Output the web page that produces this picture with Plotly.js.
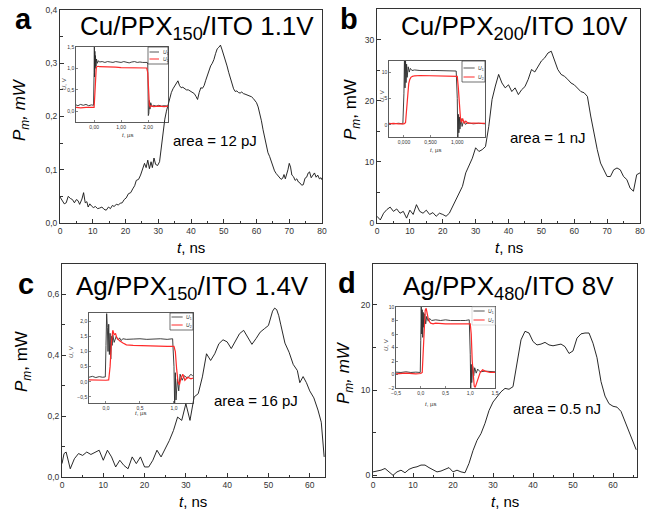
<!DOCTYPE html>
<html>
<head>
<meta charset="utf-8">
<script src="https://cdn.plot.ly/plotly-3.0.1.min.js"></script>
<style>html,body{margin:0;padding:0;background:#fff;}#chart{width:652px;height:512px;}</style>
</head>
<body>
<div id="chart"></div>
<script>
// ---------- Panel a: Cu/PPX150/ITO 1.1V ----------
const tA = [0,0.7,1.3,1.9,2.5,3.2,3.8,4.4,5.0,5.5,6.0,6.7,7.2,7.7,8.2,8.6,9.1,9.6,10.2,10.8,11.5,12.1,12.8,13.4,14.1,14.8,15.4,16.0,16.5,17.2,17.8,18.4,19.0,19.6,20.2,20.9,21.6,22.2,22.8,23.3,24.0,24.6,25.2,25.8,26.3,26.8,27.3,27.8,28.2,28.7,29.2,29.8,30.4,31.0,31.5,32.0,32.5,33.0,33.5,34.0,34.5,35.0,35.5,36.0,36.5,37.0,37.5,38.0,38.6,39.2,39.8,40.4,41.0,41.5,42.0,42.5,43.0,43.5,44.0,44.5,45.0,45.5,46.0,46.5,47.0,47.5,48.0,48.5,49.0,49.5,50.0,50.5,51.0,51.5,52.0,52.5,53.0,53.5,54.0,54.5,55.0,55.5,56.0,56.5,57.0,57.5,58.0,58.5,59.0,59.5,60.0,60.5,61.0,61.5,62.0,62.5,63.0,63.5,64.0,64.5,65.0,65.5,66.0,66.5,67.0,67.5,68.0,68.4,68.8,69.2,69.6,70.0,70.4,70.8,71.3,71.8,72.3,72.8,73.3,73.8,74.3,74.8,75.3,75.8,76.2,76.7,77.2,77.7,78.2,78.7,79.2,79.7,80.0];
const pA = [0.049,0.043,0.036,0.038,0.050,0.046,0.044,0.038,0.044,0.042,0.035,0.045,0.057,0.038,0.040,0.030,0.036,0.032,0.029,0.031,0.027,0.028,0.030,0.026,0.024,0.030,0.027,0.033,0.031,0.035,0.034,0.037,0.038,0.044,0.047,0.055,0.057,0.064,0.070,0.080,0.082,0.090,0.100,0.112,0.104,0.118,0.102,0.115,0.104,0.122,0.110,0.108,0.115,0.150,0.175,0.195,0.210,0.222,0.235,0.245,0.252,0.258,0.262,0.267,0.258,0.254,0.255,0.252,0.250,0.250,0.248,0.246,0.243,0.238,0.232,0.245,0.254,0.253,0.258,0.268,0.278,0.288,0.295,0.300,0.307,0.318,0.327,0.330,0.334,0.325,0.316,0.305,0.295,0.283,0.273,0.262,0.252,0.247,0.248,0.245,0.244,0.246,0.243,0.242,0.241,0.240,0.239,0.237,0.234,0.230,0.226,0.218,0.207,0.192,0.175,0.160,0.144,0.132,0.125,0.115,0.106,0.098,0.093,0.089,0.087,0.082,0.084,0.091,0.083,0.090,0.100,0.112,0.105,0.090,0.087,0.080,0.083,0.077,0.075,0.071,0.072,0.084,0.086,0.094,0.096,0.085,0.090,0.094,0.086,0.090,0.083,0.085,0.081];
const insA_t1 = [-0.67,-0.6,-0.5,-0.4,-0.3,-0.2,-0.1,-0.02,0.0,0.01,0.02,0.03,0.04,0.05,0.07,0.09,0.12,0.16,0.2,0.3,0.4,0.5,0.6,0.7,0.8,0.9,1.0,1.1,1.2,1.3,1.4,1.5,1.6,1.7,1.8,1.9,1.97,1.99,2.0,2.01,2.02,2.03,2.05,2.07,2.1,2.15,2.2,2.3,2.4,2.5,2.6,2.74];
const insA_u1 = [0.15,0.13,0.16,0.14,0.16,0.13,0.15,0.14,0.9,1.5,0.8,1.4,1.0,1.3,1.05,1.22,1.12,1.18,1.15,1.16,1.14,1.16,1.15,1.14,1.16,1.15,1.14,1.16,1.15,1.13,1.15,1.16,1.14,1.15,1.14,1.15,1.14,1.1,0.4,-0.1,0.35,-0.05,0.25,0.05,0.2,0.1,0.14,0.12,0.14,0.12,0.13,0.12];
const insA_t2 = [-0.67,-0.5,-0.3,-0.1,0.0,0.02,0.04,0.06,0.08,0.1,0.15,0.2,0.4,0.6,0.8,1.0,1.2,1.4,1.6,1.8,1.95,1.99,2.01,2.03,2.05,2.08,2.12,2.2,2.4,2.6,2.74];
const insA_u2 = [0.09,0.08,0.09,0.08,0.09,0.3,0.7,0.92,1.0,1.04,1.05,1.04,1.04,1.03,1.03,1.02,1.02,1.02,1.01,1.01,1.01,0.9,0.45,0.2,0.15,0.1,0.13,0.11,0.12,0.11,0.12];

// ---------- Panel b: Cu/PPX200/ITO 10V ----------
const tB = [0,1,2,3,4,5,6,7,8,9,10,11,12,13,14,15,16,17,18,19,20,21,22,23,24,25,26,27,28,29,30,31,32,33,34,35,36,37,38,39,40,41,42,43,44,45,46,47,48,49,50,51,52,53,54,55,56,57,58,59,60,61,62,63,64,65,66,67,68,69,70,71,72,73,74,75,76,77,78,79,80];
const pB = [1.1,0.5,1.6,2.2,2.6,1.9,2.3,1.6,1.9,0.8,2.1,1.4,3.0,1.9,1.6,2.1,1.4,1.7,1.1,1.6,1.4,1.1,1.6,2.7,3.8,4.9,6.0,8.2,9.3,10.6,12.3,11.7,12.0,12.5,15.8,20.2,22.4,24.3,22.9,22.1,22.6,21.5,22.1,21.0,21.8,22.3,23.5,25.1,24.7,25.6,26.5,27.0,27.8,28.1,26.5,25.1,24.3,24.0,23.5,22.9,22.6,22.1,21.5,21.3,20.7,17.5,14.7,12.0,9.8,8.7,7.6,7.6,8.7,9.0,8.7,7.6,7.1,5.7,5.2,7.9,8.2];
const insB_t1 = [-0.28,-0.2,-0.1,-0.02,0.0,0.01,0.02,0.03,0.04,0.05,0.06,0.08,0.1,0.12,0.15,0.2,0.3,0.4,0.5,0.6,0.7,0.8,0.9,0.98,1.0,1.01,1.02,1.03,1.04,1.05,1.07,1.09,1.12,1.15,1.2,1.3,1.4,1.52];
const insB_u1 = [0.3,0.2,0.3,0.2,6,13,7,12.5,8,11.5,9,11,10,10.7,10.3,10.4,10.3,10.35,10.3,10.3,10.25,10.3,10.25,10.2,5,-3,2,-1.5,1.5,-0.8,1.2,-0.3,0.8,0.1,0.4,0.2,0.3,0.2];
const insB_t2 = [-0.28,-0.2,-0.1,0.0,0.03,0.05,0.07,0.09,0.11,0.13,0.16,0.2,0.3,0.5,0.7,0.9,1.0,1.02,1.04,1.06,1.08,1.1,1.13,1.16,1.2,1.3,1.52];
const insB_u2 = [0.2,0.3,0.2,0.2,0.4,3,6,7.8,8.6,9.0,9.2,9.3,9.35,9.3,9.3,9.25,9.2,7,3,1.2,0.5,1.2,0.3,0.7,0.3,0.35,0.3];

// ---------- Panel c: Ag/PPX150/ITO 1.4V ----------
const tC = [0,0.5,1,1.5,2,3,4,5,6,7,8,9,10,11,12,13,14,15,16,17,18,19,20,21,22,23,24,25,26,27,28,29,30,31,32,33,34,35,36,37,38,39,40,41,42,43,44,45,46,47,48,49,50,51,51.5,52,52.5,53,54,55,56,57,57.6,58.4,59.2,60,61,62,62.8,63.5];
const pC = [0.044,0.077,0.082,0.055,0.027,0.060,0.077,0.071,0.082,0.074,0.082,0.088,0.055,0.088,0.066,0.033,0.055,0.038,0.027,0.066,0.044,0.066,0.033,0.033,0.055,0.088,0.066,0.093,0.120,0.153,0.197,0.186,0.241,0.186,0.263,0.274,0.329,0.405,0.383,0.405,0.438,0.451,0.444,0.422,0.449,0.471,0.482,0.460,0.436,0.455,0.476,0.487,0.498,0.545,0.555,0.550,0.530,0.500,0.440,0.410,0.370,0.350,0.310,0.330,0.310,0.283,0.260,0.220,0.180,0.066];
const insC_t1 = [-0.25,-0.2,-0.15,-0.1,-0.05,-0.01,0.0,0.01,0.02,0.03,0.04,0.05,0.06,0.07,0.08,0.09,0.1,0.12,0.15,0.18,0.2,0.22,0.25,0.3,0.4,0.5,0.6,0.7,0.8,0.9,0.98,1.0,1.01,1.02,1.03,1.05,1.07,1.09,1.12,1.15,1.2,1.25,1.28];
const insC_u1 = [0.15,0.18,0.14,0.17,0.15,0.16,1.2,2.25,1.8,1.0,1.9,0.9,1.6,0.75,1.5,1.2,1.55,1.3,1.5,1.38,1.45,1.36,1.42,1.4,1.41,1.42,1.4,1.41,1.42,1.4,1.42,0.5,-0.8,0.3,-0.6,0.1,-0.3,0.25,0.05,0.2,0.12,0.25,0.18];
const insC_t2 = [-0.25,-0.15,-0.05,0.0,0.04,0.06,0.08,0.09,0.1,0.12,0.14,0.16,0.18,0.2,0.25,0.3,0.4,0.5,0.6,0.7,0.8,0.9,1.0,1.02,1.04,1.06,1.08,1.1,1.13,1.16,1.2,1.25,1.28];
const insC_u2 = [0.06,0.05,0.06,0.05,0.06,0.5,1.3,1.65,1.7,1.55,1.6,1.45,1.4,1.35,1.28,1.22,1.2,1.19,1.18,1.18,1.17,1.17,1.17,1.0,0.4,0.0,-0.1,0.1,0.25,0.05,0.15,0.1,0.12];

// ---------- Panel d: Ag/PPX480/ITO 8V ----------
const tD = [0,1,2,3,4,5,6,7,8,9,10,11,12,13,14,15,16,17,18,19,20,21,22,23,24,25,26,27,28,29,30,31,32,33,34,35,36,37,38,39,40,41,42,43,44,45,46,47,48,49,50,51,52,53,54,55,56,57,58,59,60,61,62,63,64,65,65.8];
const pD = [0.4,0.5,0.6,0.8,0.4,0.0,0.4,0.6,0.3,0.7,0.9,1.0,1.2,1.2,0.9,0.6,0.4,0.5,0.7,0.9,0.4,0.6,0.4,0.3,1.4,2.9,4.1,4.9,6.1,7.6,8.6,9.2,9.8,10.2,10.1,10.4,13.1,15.9,16.9,16.7,15.7,15.3,15.4,15.6,15.3,15.2,15.3,15.4,15.1,14.3,14.6,16.1,16.6,16.7,16.7,15.5,13.8,11.0,9.3,8.4,8.1,8.0,7.5,6.3,5.0,4.0,3.0];
const insD_t1 = [-0.5,-0.4,-0.3,-0.2,-0.1,-0.01,0.0,0.01,0.02,0.03,0.04,0.05,0.06,0.08,0.1,0.12,0.15,0.18,0.22,0.3,0.4,0.5,0.6,0.7,0.8,0.9,0.98,1.0,1.01,1.02,1.03,1.05,1.07,1.09,1.12,1.15,1.2,1.3,1.4,1.5];
const insD_u1 = [0.35,0.3,0.4,0.3,0.35,0.3,5,10,6,9.6,5.5,9.2,7,9,7.5,8.6,7.9,8.3,8.0,8.1,8.0,8.1,8.0,8.05,8.0,8.0,8.1,3,-2,1.5,-1.2,1.2,-0.2,1.0,0.2,0.8,0.4,0.5,0.4,0.4];
const insD_t2 = [-0.5,-0.3,-0.1,0.0,0.03,0.05,0.07,0.09,0.11,0.13,0.15,0.18,0.2,0.25,0.3,0.5,0.7,0.9,1.0,1.02,1.04,1.06,1.08,1.1,1.13,1.16,1.2,1.25,1.3,1.4,1.5];
const insD_u2 = [0.1,0.2,0.1,0.15,0.3,3,7,9.5,9.8,9.0,8.3,7.8,7.6,7.5,7.6,7.5,7.55,7.5,7.5,6,2,-0.5,-1.7,-1.9,-1.2,-0.3,0.3,0.7,0.5,0.3,0.3];

// ---------- Texts ----------
const panelLetters = ['a','b','c','d'];
const panelTitles = ['Cu/PPX<sub>150</sub>/ITO 1.1V','Cu/PPX<sub>200</sub>/ITO 10V','Ag/PPX<sub>150</sub>/ITO 1.4V','Ag/PPX<sub>480</sub>/ITO 8V'];
const areaLabels = ['area = 12 pJ','area = 1 nJ','area = 16 pJ','area = 0.5 nJ'];
const yTitles = ['<i>P<sub>m</sub>, mW</i>','<i>P<sub>m</sub></i>, mW','<i>P<sub>m</sub></i>, mW','<i>P<sub>m</sub>, mW</i>'];
const xTitle = '<i>t</i>, ns';
const insetXTitle = '<i>t</i>, µs';
const insetYTitle = '<i>U</i>, V';
const legendNames = ['<i>U</i><sub>1</sub>','<i>U</i><sub>2</sub>'];

// ---------- Layout helpers (pixel -> paper) ----------
const W = 652, H = 512;
const px = v => v / W;
const py = v => 1 - v / H;
const FONT = 'Liberation Sans, Arial, sans-serif';
const AX = '#333';

function mainAx(x0, x1, range, dtick, fmt, anchor) {
  return {domain:[px(x0), px(x1)], range, dtick, tick0:0, tickformat:fmt, anchor,
    ticks:'inside', ticklen:4, tickwidth:1, tickcolor:AX,
    minor:{ticks:'inside', ticklen:2.5, dtick:dtick/2, tickcolor:AX, showgrid:false},
    showline:true, mirror:true, linecolor:AX, linewidth:1,
    showgrid:false, zeroline:false, tickfont:{family:FONT, size:8.5, color:'#333'}};
}
function mainAy(y0, y1, range, dtick, fmt, anchor) {
  const a = mainAx(0, 1, range, dtick, fmt, anchor);
  a.domain = [py(y1), py(y0)];
  return a;
}
function insAx(x0, x1, range, tickvals, fmt, anchor) {
  return {domain:[px(x0), px(x1)], range, tickvals, tickformat:fmt, anchor,
    ticks:'inside', ticklen:2, tickwidth:0.6, tickcolor:AX,
    showline:true, mirror:true, linecolor:AX, linewidth:0.8,
    showgrid:false, zeroline:false, tickfont:{family:FONT, size:5, color:'#333'}};
}
function insAy(y0, y1, range, tickvals, fmt, anchor) {
  const a = insAx(0, 1, range, tickvals, fmt, anchor);
  a.domain = [py(y1), py(y0)];
  return a;
}

const mainLine = {color:'#111', width:0.9};
const u1Line = {color:'#2b2b2b', width:0.9};
const u2Line = {color:'#ff2a2a', width:1.2};

const data = [
  {x:tA, y:pA, xaxis:'x', yaxis:'y', mode:'lines', line:mainLine},
  {x:insA_t1, y:insA_u1, xaxis:'x2', yaxis:'y2', mode:'lines', line:u1Line, name:legendNames[0]},
  {x:insA_t2, y:insA_u2, xaxis:'x2', yaxis:'y2', mode:'lines', line:u2Line, name:legendNames[1]},
  {x:tB, y:pB, xaxis:'x3', yaxis:'y3', mode:'lines', line:mainLine},
  {x:insB_t1, y:insB_u1, xaxis:'x4', yaxis:'y4', mode:'lines', line:u1Line, name:legendNames[0]},
  {x:insB_t2, y:insB_u2, xaxis:'x4', yaxis:'y4', mode:'lines', line:u2Line, name:legendNames[1]},
  {x:tC, y:pC, xaxis:'x5', yaxis:'y5', mode:'lines', line:mainLine},
  {x:insC_t1, y:insC_u1, xaxis:'x6', yaxis:'y6', mode:'lines', line:u1Line, name:legendNames[0]},
  {x:insC_t2, y:insC_u2, xaxis:'x6', yaxis:'y6', mode:'lines', line:u2Line, name:legendNames[1]},
  {x:tD, y:pD, xaxis:'x7', yaxis:'y7', mode:'lines', line:mainLine},
  {x:insD_t1, y:insD_u1, xaxis:'x8', yaxis:'y8', mode:'lines', line:u1Line, name:legendNames[0]},
  {x:insD_t2, y:insD_u2, xaxis:'x8', yaxis:'y8', mode:'lines', line:u2Line, name:legendNames[1]}
];

// pixel boxes
const insetLegends = [
  {x0:148, x1:168, y0:47, y1:64, l1:52, l2:59, border:true},
  {x0:462, x1:485, y0:61, y1:82, l1:68, l2:77, border:true},
  {x0:170, x1:193, y0:313, y1:330, l1:317, l2:325, border:true},
  {x0:472, x1:495, y0:307, y1:325, l1:311, l2:320, border:false}
];

const shapes = [];
const annotations = [];
insetLegends.forEach(L => {
  shapes.push({type:'rect', xref:'paper', yref:'paper', x0:px(L.x0), x1:px(L.x1), y0:py(L.y1), y1:py(L.y0),
    fillcolor:'#fff', line:{color: L.border ? '#333' : '#ccc', width:0.7}});
  const lx1 = L.x0 + 1.5, lx2 = L.x0 + (L.x1 - L.x0) * 0.55;
  shapes.push({type:'line', xref:'paper', yref:'paper', x0:px(lx1), x1:px(lx2), y0:py(L.l1), y1:py(L.l1), line:{color:'#2b2b2b', width:0.8}});
  shapes.push({type:'line', xref:'paper', yref:'paper', x0:px(lx1), x1:px(lx2), y0:py(L.l2), y1:py(L.l2), line:{color:'#ff2a2a', width:1}});
  annotations.push({xref:'paper', yref:'paper', x:px(lx2 + 1.5), y:py(L.l1), xanchor:'left', yanchor:'middle', showarrow:false, text:legendNames[0], font:{family:FONT, size:5, color:'#333'}});
  annotations.push({xref:'paper', yref:'paper', x:px(lx2 + 1.5), y:py(L.l2), xanchor:'left', yanchor:'middle', showarrow:false, text:legendNames[1], font:{family:FONT, size:5, color:'#333'}});
});

function ann(x, y, text, size, opts) {
  annotations.push(Object.assign({xref:'paper', yref:'paper', x:px(x), y:py(y), xanchor:'center', yanchor:'middle', showarrow:false, text, font:{family:FONT, size, color:'#000'}}, opts || {}));
}
// panel letters
const letterPos = [[23,19],[349,19],[26,284],[347,283]];
letterPos.forEach((p,i) => ann(p[0], p[1], '<b>' + panelLetters[i] + '</b>', 29));
// titles
const titlePos = [[197,27],[514,27],[192,287],[508,287]];
titlePos.forEach((p,i) => ann(p[0], p[1], panelTitles[i], 26));
// area labels
const areaPos = [[215,140],[547,137],[256,400],[557,408]];
areaPos.forEach((p,i) => ann(p[0], p[1], areaLabels[i], 15));
// main axis titles
const yTitlePos = [[21,110],[352,110],[23,362],[345,373]];
yTitlePos.forEach((p,i) => ann(p[0], p[1], yTitles[i], 17, {textangle:-90}));
const xTitlePos = [[191,247],[509,247],[193,501],[505,501]];
xTitlePos.forEach(p => ann(p[0], p[1], xTitle, 15));
// inset axis titles
const insXT = [[127,135],[435,150],[140,413],[430,404]];
insXT.forEach(p => ann(p[0], p[1], insetXTitle, 6, {font:{family:FONT, size:6, color:'#333'}}));
const insYT = [[64,84],[382,96],[71,352],[386,345]];
insYT.forEach(p => ann(p[0], p[1], insetYTitle, 6, {textangle:-90, font:{family:FONT, size:6, color:'#333'}}));

const layout = {
  width:W, height:H, margin:{l:0, r:0, t:0, b:0},
  paper_bgcolor:'#fff', plot_bgcolor:'rgba(0,0,0,0)',
  showlegend:false, separators:', ',
  font:{family:FONT},
  xaxis: mainAx(60, 322, [0,80], 10, 'd', 'y'),
  yaxis: mainAy(10, 223, [0,0.4], 0.1, '.1f', 'x'),
  xaxis2: insAx(76, 168, [-0.67,2.74], [0,1,2], '.2f', 'y2'),
  yaxis2: insAy(47, 122, [-0.25,1.5], [0,0.5,1,1.5], '.1f', 'x2'),
  xaxis3: mainAx(377, 640, [0,80], 10, 'd', 'y3'),
  yaxis3: mainAy(9, 223, [0,35], 10, 'd', 'x3'),
  xaxis4: insAx(389, 485, [-0.28,1.52], [0,0.5,1], '.3f', 'y4'),
  yaxis4: insAy(61, 137, [-2.3,12.1], [0,5,10], 'd', 'x4'),
  xaxis5: mainAx(62, 325, [0,63.7], 10, 'd', 'y5'),
  yaxis5: mainAy(264, 477, [0,0.7], 0.2, '.1f', 'x5'),
  xaxis6: insAx(89, 193, [-0.25,1.28], [0,0.5,1], '.1f', 'y6'),
  yaxis6: insAy(313, 403, [-0.7,2.27], [-0.5,0,0.5,1,1.5,2], '.1f', 'x6'),
  xaxis7: mainAx(373, 637, [0,66], 10, 'd', 'y7'),
  yaxis7: mainAy(264, 477, [-0.2,24.8], 10, 'd', 'x7'),
  xaxis8: insAx(396, 495, [-0.5,1.5], [-0.5,0,0.5,1,1.5], '.1f', 'y8'),
  yaxis8: insAy(307, 388, [-2,10], [-2,0,2,4,6,8,10], 'd', 'x8'),
  shapes, annotations
};
layout.yaxis5.minor.dtick = 0.1;

Plotly.newPlot('chart', data, layout, {staticPlot:true, displayModeBar:false});
</script>
</body>
</html>
